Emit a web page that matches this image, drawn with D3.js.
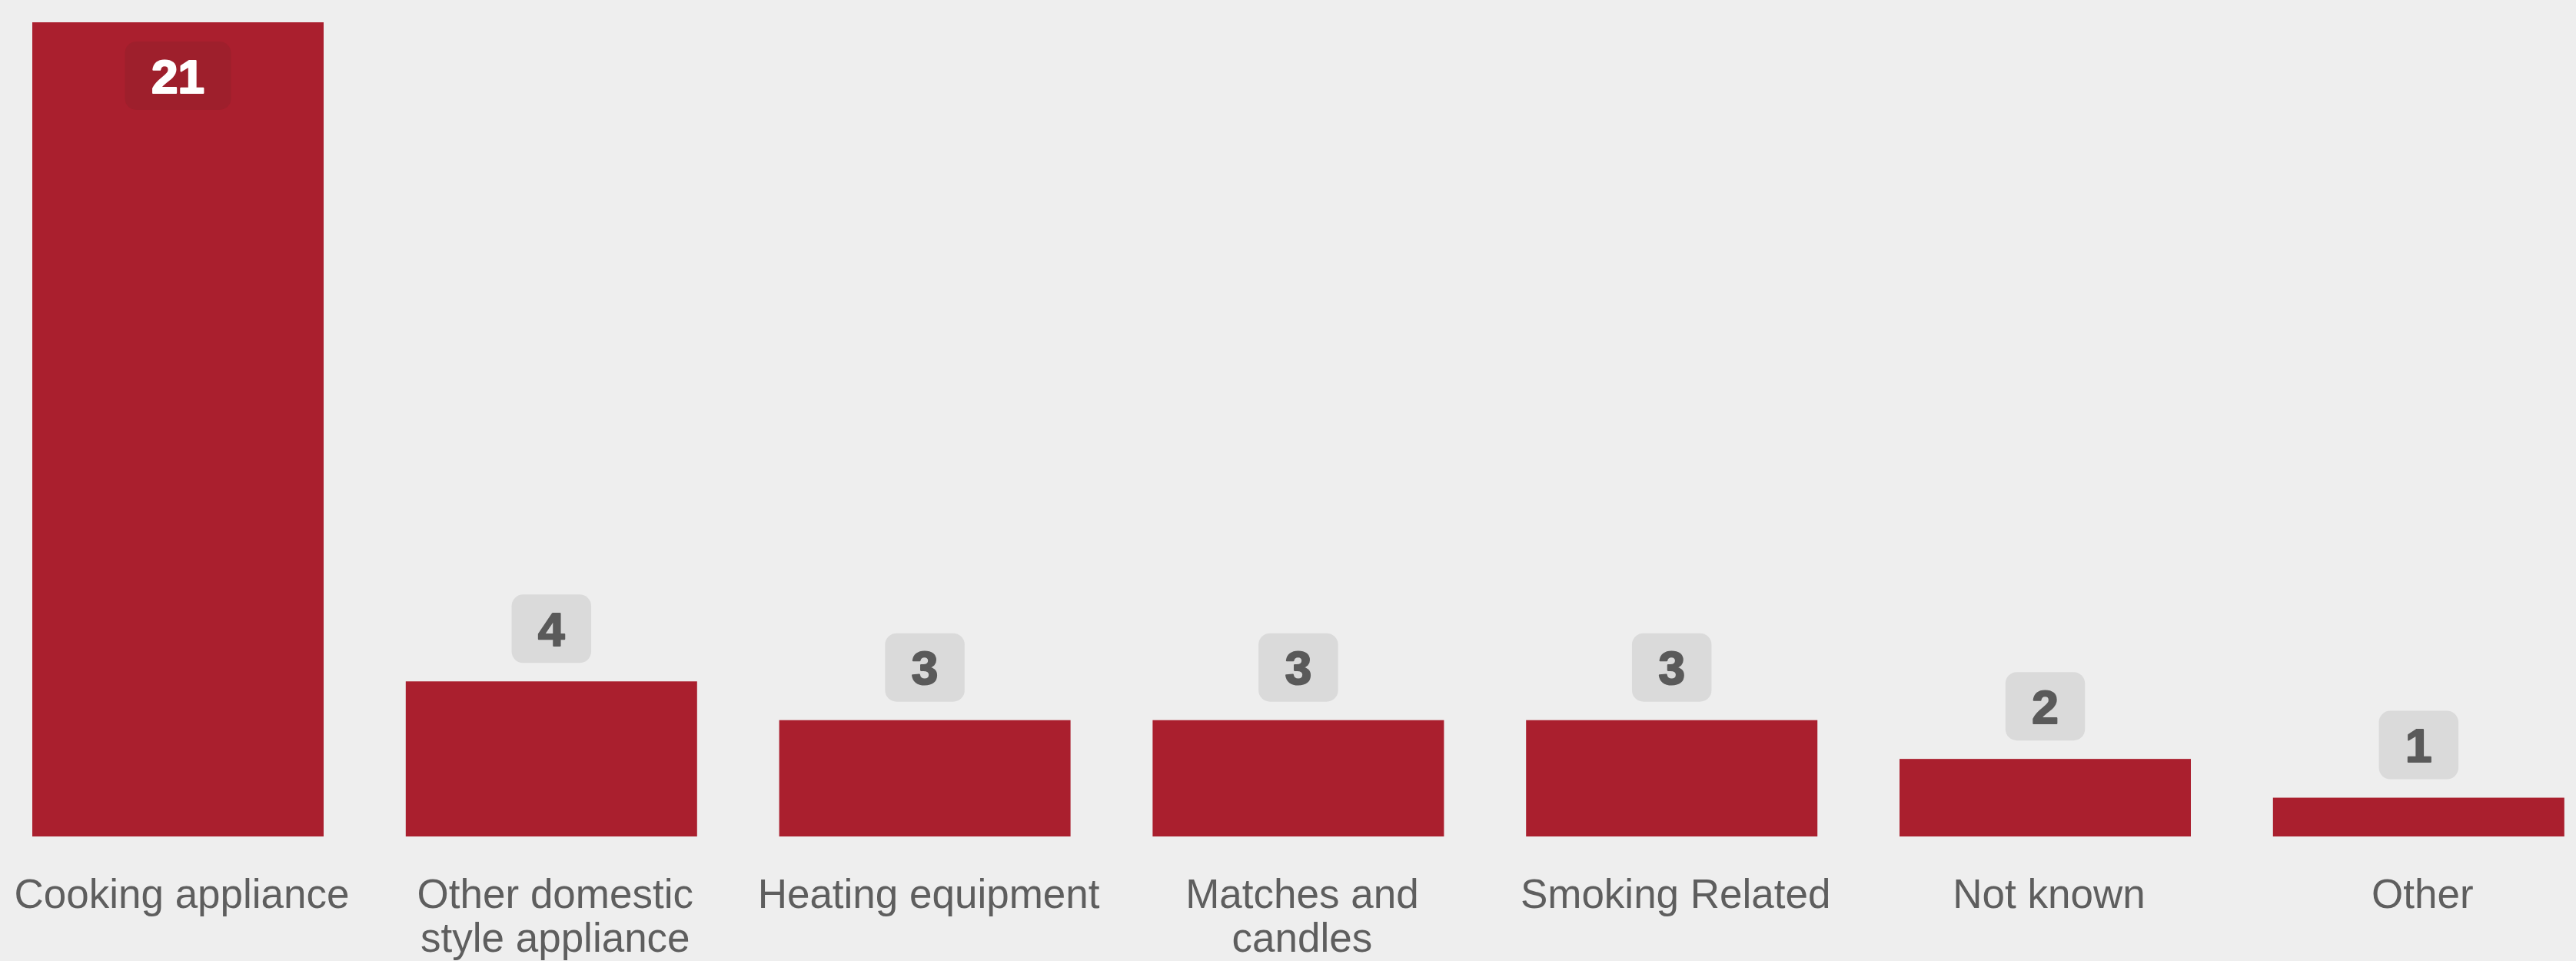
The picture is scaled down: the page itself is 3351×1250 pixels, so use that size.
<!DOCTYPE html>
<html>
<head>
<meta charset="utf-8">
<script src="https://cdn.jsdelivr.net/npm/d3@7"></script>
<style>
  html, body { margin: 0; padding: 0; background: #eeeeee; }
  svg { display: block; }
</style>
</head>
<body>
<script>
const categories = ["Cooking appliance", "Other domestic style appliance", "Heating equipment", "Matches and candles", "Smoking Related", "Not known", "Other"];
const values = [21, 4, 3, 3, 3, 2, 1];

const W = 3351, H = 1250;
const margin = { left: 42, top: 29, bottom: 162 };

const svg = d3.select("body").append("svg").attr("width", W).attr("height", H);
svg.append("rect").attr("width", W).attr("height", H).attr("fill", "#eeeeee");

const step = 485.8, bw = 379;
const x = d3.scaleBand().domain(categories)
  .range([margin.left, margin.left + step * (categories.length - 1) + bw])
  .paddingInner((step - bw) / step).paddingOuter(0);

const y = d3.scaleLinear().domain([0, d3.max(values)]).range([H - margin.bottom, margin.top]);

const data = categories.map((c, i) => ({ c, v: values[i] }));

svg.selectAll("rect.bar").data(data).enter().append("rect")
  .attr("class", "bar")
  .attr("x", d => x(d.c)).attr("width", x.bandwidth())
  .attr("y", d => y(d.v)).attr("height", d => y(0) - y(d.v))
  .attr("fill", "#aa1f2e");

// value labels
const boxH = 89, gap = 24, fs = 62;
data.forEach(d => {
  const cx = x(d.c) + x.bandwidth() / 2;
  const top = y(d.v);
  const inside = top - gap - boxH < 0;
  const col = inside ? "#ffffff" : "#5a5a5a";
  const g = svg.append("g");
  const t = g.append("text")
    .attr("x", cx)
    .attr("text-anchor", "middle")
    .attr("font-family", "'Liberation Sans', Arial, sans-serif")
    .attr("font-weight", "bold")
    .attr("font-size", fs)
    .attr("fill", col)
    .attr("stroke", col)
    .attr("stroke-width", 2.2)
    .attr("stroke-linejoin", "round")
    .text(d.v);
  const tw = t.node().getComputedTextLength();
  const bwid = tw + 69;
  const by = inside ? top + 25 : top - gap - boxH;
  g.insert("rect", "text")
    .attr("x", cx - bwid / 2).attr("y", by)
    .attr("width", bwid).attr("height", boxH)
    .attr("rx", 15).attr("ry", 15)
    .attr("fill", inside ? "#9e1f2c" : "#dadada");
  t.attr("y", by + boxH / 2 + 22);
});

// category labels with wrapping
const labelFS = 53, lineH = 57, maxW = 470;
data.forEach(d => {
  const cx = x(d.c) + x.bandwidth() / 2 + 5;
  const t = svg.append("text")
    .attr("text-anchor", "middle")
    .attr("font-family", "'Liberation Sans', Arial, sans-serif")
    .attr("font-size", labelFS)
    .attr("fill", "#5e5e5e");
  const words = d.c.split(" ");
  let lines = [], cur = [];
  const probe = t.append("tspan");
  words.forEach(w => {
    const test = cur.concat([w]).join(" ");
    probe.text(test);
    if (probe.node().getComputedTextLength() > maxW && cur.length) {
      lines.push(cur.join(" "));
      cur = [w];
    } else cur.push(w);
  });
  lines.push(cur.join(" "));
  probe.remove();
  lines.forEach((l, i) => {
    t.append("tspan").attr("x", cx).attr("y", 1181 + i * lineH).text(l);
  });
});
</script>
</body>
</html>
